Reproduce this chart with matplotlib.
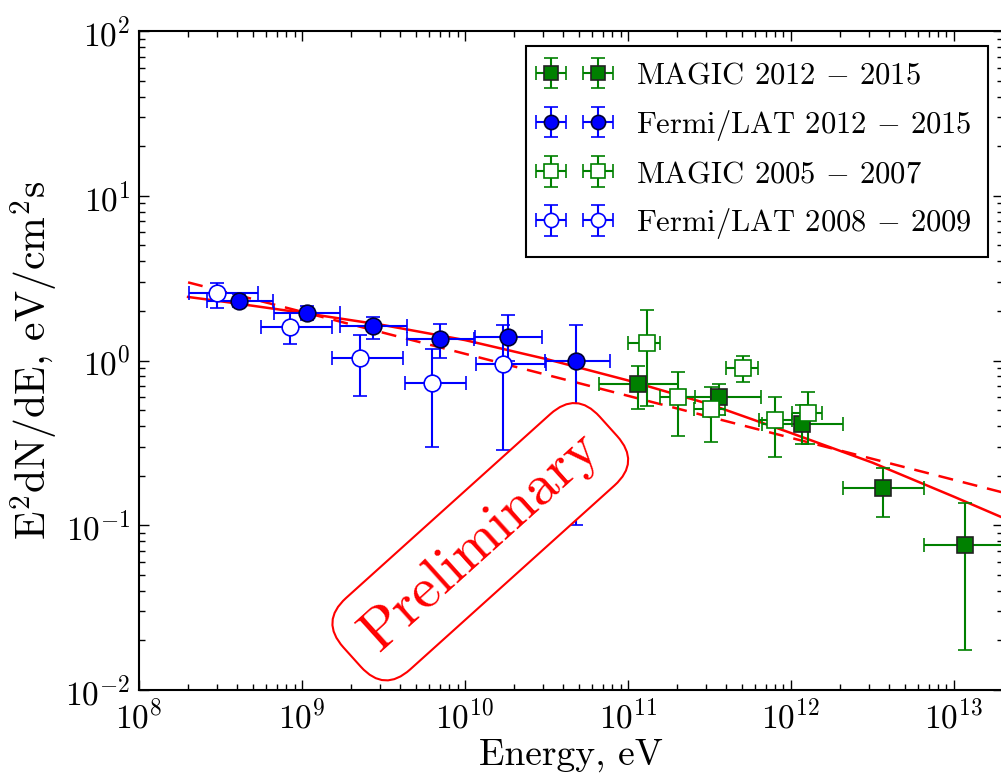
import matplotlib
matplotlib.use('Agg')
import matplotlib.pyplot as plt
import numpy as np

plt.rcParams['font.family'] = 'cmr10'
plt.rcParams['mathtext.fontset'] = 'cm'
plt.rcParams['axes.unicode_minus'] = False
plt.rcParams['axes.formatter.use_mathtext'] = True

# MAGIC 2012-2015 (filled squares)
magic_new_e = np.array([1.16e11, 3.63e11, 1.17e12, 3.66e12, 1.17e13])
magic_new_f = np.array([0.716, 0.603, 0.41, 0.168, 0.076])
magic_new_elo = np.array([6.6e10, 2.02e11, 6.6e11, 2.09e12, 6.55e12])
magic_new_ehi = np.array([2.04e11, 6.52e11, 2.09e12, 6.55e12, 2.1e13])
magic_new_flo = np.array([0.505, 0.47, 0.31, 0.113, 0.0175])
magic_new_fhi = np.array([0.92, 0.725, 0.54, 0.224, 0.136])

# Fermi/LAT 2012-2015 (filled circles)
fermi_new_e = np.array([4.1e8, 1.07e9, 2.73e9, 7.03e9, 1.84e10, 4.8e10])
fermi_new_f = np.array([2.31, 1.93, 1.61, 1.35, 1.38, 1.0])
fermi_new_elo = np.array([2.6e8, 6.7e8, 1.71e9, 4.4e9, 1.15e10, 3.09e10])
fermi_new_ehi = np.array([6.67e8, 1.71e9, 4.4e9, 1.13e10, 2.95e10, 7.76e10])
fermi_new_flo = np.array([2.1, 1.75, 1.35, 1.04, 1.0, 0.1])
fermi_new_fhi = np.array([2.55, 2.15, 1.83, 1.67, 1.88, 1.64])

# MAGIC 2005-2007 (open squares)
magic_old_e = np.array([1.30e11, 2.04e11, 3.23e11, 5.06e11, 8.0e11, 1.28e12])
magic_old_f = np.array([1.28, 0.60, 0.505, 0.90, 0.435, 0.48])
magic_old_elo = np.array([1.0e11, 1.58e11, 2.54e11, 3.98e11, 6.37e11, 1.01e12])
magic_old_ehi = np.array([1.58e11, 2.57e11, 3.94e11, 6.24e11, 1.01e12, 1.54e12])
magic_old_flo = np.array([0.53, 0.35, 0.32, 0.74, 0.26, 0.31])
magic_old_fhi = np.array([2.02, 0.85, 0.69, 1.06, 0.60, 0.646])

# Fermi/LAT 2008-2009 (open circles)
fermi_old_e = np.array([3.0e8, 8.5e8, 2.27e9, 6.25e9, 1.70e10])
fermi_old_f = np.array([2.58, 1.60, 1.03, 0.726, 0.955])
fermi_old_elo = np.array([2.03e8, 5.6e8, 1.53e9, 4.29e9, 1.17e10])
fermi_old_ehi = np.array([5.4e8, 1.52e9, 4.18e9, 1.01e10, 3.16e10])
fermi_old_flo = np.array([2.07, 1.26, 0.61, 0.30, 0.285])
fermi_old_fhi = np.array([2.96, 1.95, 1.42, 1.17, 1.64])

# model curves
fit_e = [2e8, 3.16e8, 1e9, 3.16e9, 1e10, 3.16e10, 1e11, 3.16e11, 1e12, 3.16e12, 1e13, 2e13]
fit_f = [2.43, 2.29, 1.95, 1.64, 1.33, 1.02, 0.757, 0.543, 0.363, 0.240, 0.149, 0.111]
pl_e = [2e8, 2e13]
pl_f = [2.98, 0.158]

fig = plt.figure(figsize=(10.01, 7.79), dpi=100)
ax = fig.add_axes([139 / 1001, 89 / 779, 864 / 1001, 659 / 779])
ax.set_xscale('log')
ax.set_yscale('log')

ax.plot(fit_e, fit_f, 'r-', lw=1.8, zorder=1)
ax.plot(pl_e, pl_f, 'r--', lw=1.8, dashes=(6, 4), zorder=1)

def draw(e, f, elo, ehi, flo, fhi, marker, color, face, edge, label):
    ax.errorbar(e, f, xerr=[e - elo, ehi - e], yerr=[f - flo, fhi - f],
                fmt=marker, color=color, mfc=face, mec=edge, ms=12, mew=1.2,
                elinewidth=1.5, capsize=5, capthick=1.5, label=label)

draw(magic_new_e, magic_new_f, magic_new_elo, magic_new_ehi, magic_new_flo, magic_new_fhi,
     's', 'g', 'g', '#222222', 'MAGIC 2012 $-$ 2015')
draw(fermi_new_e, fermi_new_f, fermi_new_elo, fermi_new_ehi, fermi_new_flo, fermi_new_fhi,
     'o', 'b', 'b', '#000033', 'Fermi/LAT 2012 $-$ 2015')
draw(magic_old_e, magic_old_f, magic_old_elo, magic_old_ehi, magic_old_flo, magic_old_fhi,
     's', 'g', 'w', 'g', 'MAGIC 2005 $-$ 2007')
draw(fermi_old_e, fermi_old_f, fermi_old_elo, fermi_old_ehi, fermi_old_flo, fermi_old_fhi,
     'o', 'b', 'w', 'b', 'Fermi/LAT 2008 $-$ 2009')

ax.text(0.395, 0.225, 'Preliminary', transform=ax.transAxes, rotation=42,
        fontsize=42, color='r', ha='center', va='center', rotation_mode='anchor',
        bbox=dict(boxstyle='round,pad=0.38,rounding_size=0.6', fc='w', ec='r', lw=1.5),
        zorder=5)

ax.set_xlim(1e8, 2e13)
ax.set_ylim(1e-2, 1e2)
ax.set_xlabel('Energy, eV', fontsize=27)
ax.set_ylabel('E$^2$dN/dE, eV/cm$^2$s', fontsize=30)
ax.tick_params(which='both', direction='in', top=True, right=True, labelsize=24)
ax.tick_params(which='major', length=7, width=1, pad=6)
ax.tick_params(which='minor', length=4, width=1)
for s in ax.spines.values():
    s.set_linewidth(1.5)

leg = ax.legend(loc='upper right', numpoints=2, fontsize=22, fancybox=False,
                edgecolor='k', framealpha=1, borderaxespad=0.5, handletextpad=0.95,
                handlelength=2.14, borderpad=0.52, labelspacing=0.59, markerscale=0.85)
leg.get_frame().set_linewidth(1.5)

fig.savefig('out.png', dpi=100)
